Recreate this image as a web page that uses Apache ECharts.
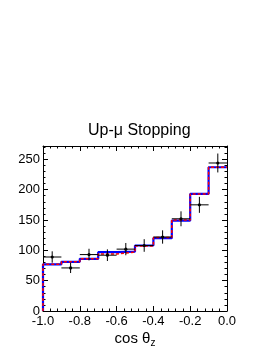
<!DOCTYPE html>
<html>
<head>
<meta charset="utf-8">
<script src="https://cdn.jsdelivr.net/npm/echarts@6/dist/echarts.min.js"></script>
<style>html,body{margin:0;padding:0;background:#fff}#c{width:273px;height:353px}</style>
</head>
<body>
<div id="c"></div>
<script>
// Bin edges of cos(theta_z)
var binEdges = [-1.0, -0.9, -0.8, -0.7, -0.6, -0.5, -0.4, -0.3, -0.2, -0.1, 0.0];
// MC histogram (blue, solid) and (red, dashed)
var mcBlue = [77, 81, 86, 97, 98, 108, 120, 149, 193, 237];
var mcRed  = [77, 81, 86, 94, 97, 107, 121, 150, 193, 237];
// Data points and their errors
var dataVals = [89, 71, 93, 92, 102, 108, 122, 152, 175, 244];
var dataErrs = [9.4, 8.4, 9.6, 9.6, 10.1, 10.4, 11.0, 12.3, 13.2, 15.6];
var yTicks = [0, 50, 100, 150, 200, 250];
var xTicks = [-1.0, -0.8, -0.6, -0.4, -0.2, 0.0];

function stepData(vals) {
  var d = [[binEdges[0], 0]];
  for (var i = 0; i < vals.length; i++) d.push([binEdges[i], vals[i]]);
  d.push([binEdges[binEdges.length - 1], vals[vals.length - 1]]);
  return d;
}
var pts = dataVals.map(function (v, i) {
  return [binEdges[i], binEdges[i + 1], v, dataErrs[i]];
});

var font = 'Liberation Sans, Arial, Helvetica, sans-serif';
var chart = echarts.init(document.getElementById('c'), null, {renderer: 'canvas'});
var axisCommon = {
  axisLine: {show: true, onZero: false, lineStyle: {color: '#000', width: 1}},
  splitLine: {show: false}
};
chart.setOption({
  animation: false,
  backgroundColor: '#fff',
  title: {
    text: 'Up-\u03bc Stopping',
    left: 88, top: 123, padding: 0,
    textStyle: {fontFamily: font, fontSize: 16, fontWeight: 'normal', color: '#000'}
  },
  grid: {left: 43, right: 46, top: 146, bottom: 42, containLabel: false},
  xAxis: [
    Object.assign({
      type: 'value', min: -1.0, max: 0.0, interval: 0.2, position: 'bottom',
      axisTick: {show: true, inside: true, length: 5, lineStyle: {color: '#000'}},
      minorTick: {show: true, splitNumber: 5, length: 2.5, lineStyle: {color: '#000'}},
      axisLabel: {
        fontFamily: font, fontSize: 13, color: '#000', margin: 4,
        formatter: function (v) { return v.toFixed(1); },
        showMinLabel: true, showMaxLabel: true
      },
      name: '{a|cos \u03b8}{s|z}', nameLocation: 'middle', nameGap: 19,
      nameTextStyle: {
        rich: {
          a: {fontFamily: font, fontSize: 15, color: '#000'},
          s: {fontFamily: font, fontSize: 10, color: '#000', padding: [8, 0, 0, 0]}
        }
      }
    }, axisCommon),
    Object.assign({
      type: 'value', min: -1.0, max: 0.0, interval: 0.2, position: 'top',
      axisTick: {show: true, inside: true, length: 5, lineStyle: {color: '#000'}},
      minorTick: {show: true, splitNumber: 5, length: 2.5, lineStyle: {color: '#000'}},
      axisLabel: {show: false}
    }, axisCommon)
  ],
  yAxis: [
    Object.assign({
      type: 'value', min: 0, max: 272, interval: 50, position: 'left',
      axisTick: {show: true, inside: true, length: 5, lineStyle: {color: '#000'}},
      minorTick: {show: true, splitNumber: 5, length: 2.5, lineStyle: {color: '#000'}},
      axisLabel: {
        fontFamily: font, fontSize: 13, color: '#000', margin: 3,
        showMaxLabel: false,
        formatter: function (v) { return yTicks.indexOf(v) >= 0 ? String(v) : ''; }
      }
    }, axisCommon),
    Object.assign({
      type: 'value', min: 0, max: 272, interval: 50, position: 'right',
      axisTick: {show: true, inside: true, length: 5, lineStyle: {color: '#000'}},
      minorTick: {show: true, splitNumber: 5, length: 2.5, lineStyle: {color: '#000'}},
      axisLabel: {show: false}
    }, axisCommon)
  ],
  series: [
    {
      type: 'line', step: 'end', data: stepData(mcBlue), symbol: 'none',
      lineStyle: {color: '#0000ff', width: 2.2}, z: 2
    },
    {
      type: 'line', step: 'end', data: stepData(mcRed), symbol: 'none',
      lineStyle: {color: '#ff0000', width: 1.5, type: [3, 2]}, z: 3
    },
    {
      type: 'custom', z: 4,
      data: pts,
      encode: {x: [0, 1], y: 2},
      renderItem: function (params, api) {
        var x0 = api.value(0), x1 = api.value(1), v = api.value(2), e = api.value(3);
        var xc = (x0 + x1) / 2;
        var pL = api.coord([x0, v]), pR = api.coord([x1, v]);
        var pT = api.coord([xc, v + e]), pB = api.coord([xc, v - e]);
        var pC = api.coord([xc, v]);
        var st = {stroke: '#000', lineWidth: 1};
        return {
          type: 'group',
          children: [
            {type: 'line', shape: {x1: pL[0], y1: pL[1], x2: pR[0], y2: pR[1]}, style: st},
            {type: 'line', shape: {x1: pT[0], y1: pT[1], x2: pB[0], y2: pB[1]}, style: st},
            {type: 'circle', shape: {cx: pC[0], cy: pC[1], r: 1.6}, style: {fill: '#000'}}
          ]
        };
      }
    }
  ]
});
</script>
</body>
</html>
